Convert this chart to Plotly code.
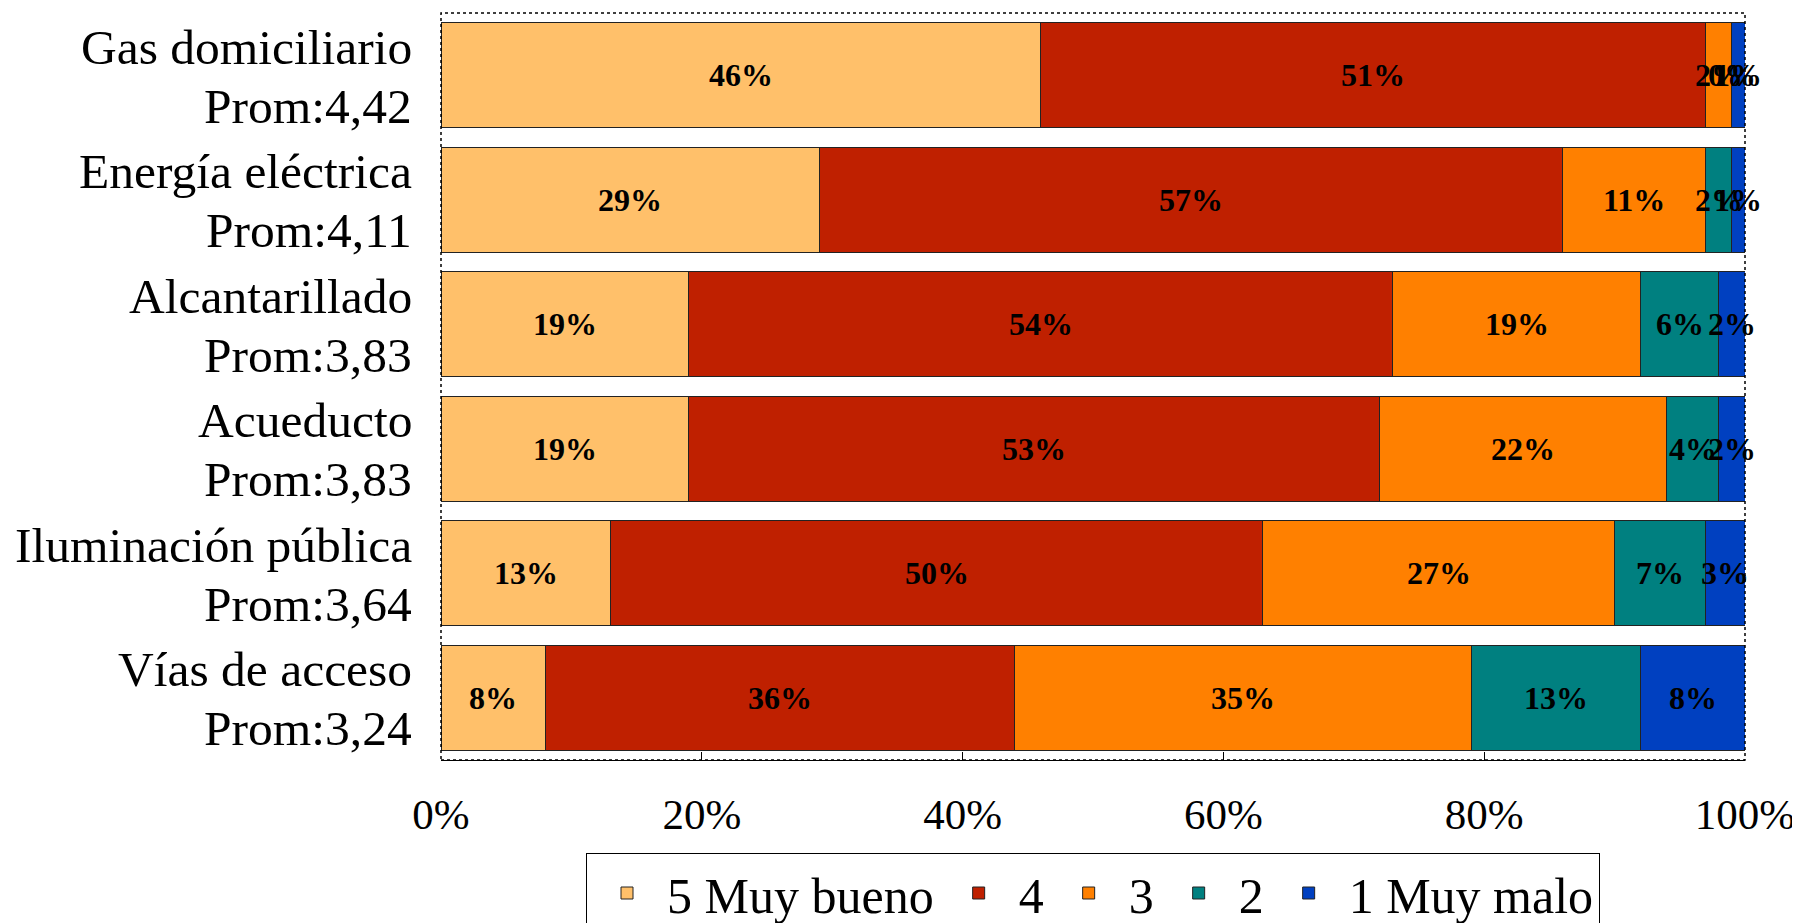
import numpy as np
import plotly.graph_objects as go

categories = ["Gas domiciliario", "Energía eléctrica", "Alcantarillado",
              "Acueducto", "Iluminación pública", "Vías de acceso"]
promedios = ["4,42", "4,11", "3,83", "3,83", "3,64", "3,24"]
series_names = ["5 Muy bueno", "4", "3", "2", "1 Muy malo"]
v5 = [46, 29, 19, 19, 13, 8]
v4 = [51, 57, 54, 53, 50, 36]
v3 = [2, 11, 19, 22, 27, 35]
v2 = [0, 2, 6, 4, 7, 13]
v1 = [1, 1, 2, 2, 3, 8]
x_ticks = [0, 20, 40, 60, 80, 100]
x_ticklabels = ["0%", "20%", "40%", "60%", "80%", "100%"]

colors = ["#FFC06A", "#BF2000", "#FF8000", "#008080", "#0040C0"]
series = [v5, v4, v3, v2, v1]

FONT = "Liberation Serif, Times New Roman, serif"

fig = go.Figure()
for name, vals, col in zip(series_names, series, colors):
    fig.add_trace(go.Bar(
        y=categories, x=vals, name=name, orientation="h",
        marker=dict(color=col, line=dict(color="#222222", width=1)),
        hoverinfo="x+name",
    ))

# data labels centred in each segment
data = np.array(series, dtype=float)
cum = np.cumsum(data, axis=0)
annotations = []
for i in range(data.shape[0]):
    for j in range(data.shape[1]):
        mid = cum[i, j] - data[i, j] / 2
        annotations.append(dict(
            x=mid, y=categories[j], xref="x", yref="y",
            text=f"<b>{int(data[i, j])}%</b>", showarrow=False,
            font=dict(family=FONT, size=32, color="black"),
        ))

# two-line category labels (name + average) at the left of the plot
for c, p in zip(categories, promedios):
    annotations.append(dict(
        x=0, y=c, xref="paper", yref="y", xanchor="right", yanchor="middle",
        xshift=-27, yshift=28, text=c, showarrow=False,
        font=dict(family=FONT, size=49.5, color="black"),
    ))
    annotations.append(dict(
        x=0, y=c, xref="paper", yref="y", xanchor="right", yanchor="middle",
        xshift=-27, yshift=-31, text=f"Prom:{p}", showarrow=False,
        font=dict(family=FONT, size=49.5, color="black"),
    ))

fig.update_layout(
    width=1792, height=915,
    barmode="stack", bargap=0.155,
    plot_bgcolor="white", paper_bgcolor="white",
    margin=dict(l=433, r=55, t=5, b=163, autoexpand=False),
    font=dict(family=FONT, color="black", size=47),
    annotations=annotations,
    showlegend=True,
    legend=dict(
        orientation="h", x=0.5, xanchor="center", y=-0.1245, yanchor="top",
        bordercolor="black", borderwidth=1,
        font=dict(family=FONT, size=50, color="black"),
        traceorder="normal", itemwidth=70,
    ),
    shapes=[dict(type="rect", xref="paper", yref="paper", x0=0, x1=1, y0=0, y1=1,
                 line=dict(color="black", width=1.5, dash="dot"))],
)
fig.update_xaxes(
    range=[0, 100], tickvals=x_ticks, ticktext=x_ticklabels,
    showgrid=False, zeroline=False, automargin=False,
    showline=True, linecolor="black", linewidth=1,
    ticks="inside", ticklen=8, tickcolor="black",
    ticklabelstandoff=16,
    tickfont=dict(family=FONT, size=43, color="black"),
)
fig.update_yaxes(
    autorange="reversed", showgrid=False, zeroline=False, showline=False,
    ticks="", showticklabels=False, automargin=False,
)

fig.write_html("out.html")
